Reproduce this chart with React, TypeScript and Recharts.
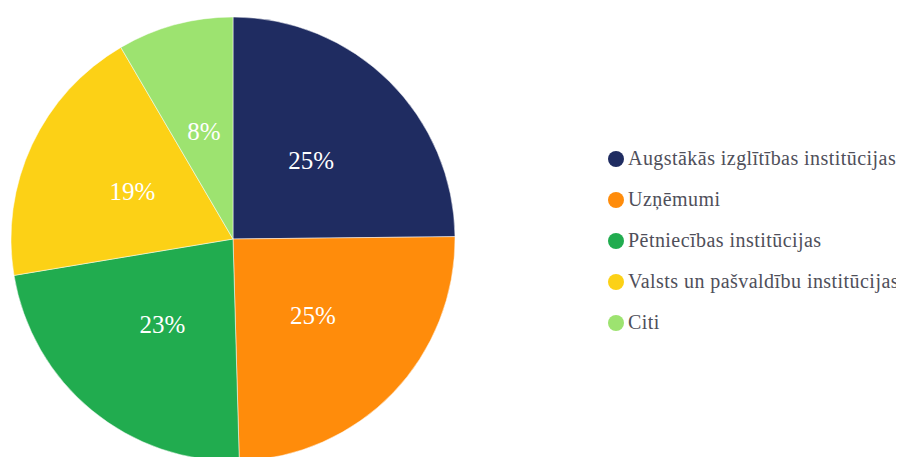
import React from 'react';
import { PieChart, Pie, Cell, Legend } from 'recharts';

// sector shares (percent)
const categories = [
  'Augstākās izglītības institūcijas',
  'Uzņēmumi',
  'Pētniecības institūcijas',
  'Valsts un pašvaldību institūcijas',
  'Citi',
];
const shares = [24.83, 24.72, 22.83, 19.19, 8.43];
const colors = ['#1f2c61', '#ff8c0b', '#21ac4f', '#fcd116', '#9de370'];

const data = categories.map((name, i) => ({ name, value: shares[i] }));

const RAD = Math.PI / 180;
const FONT = "'Liberation Serif', 'Times New Roman', serif";

const renderLabel = (props: any) => {
  const { cx, cy, midAngle, outerRadius, percent } = props;
  const r = outerRadius * 0.5;
  const x = cx + r * Math.cos(-midAngle * RAD);
  const y = cy + r * Math.sin(-midAngle * RAD);
  return (
    <text x={x} y={y} fill="#fff" textAnchor="middle" dominantBaseline="central"
      style={{ fontFamily: FONT }} fontSize={25}>
      {`${Math.round(percent * 100)}%`}
    </text>
  );
};

const LegendList = () => (
  <ul style={{ listStyle: 'none', margin: 0, padding: 0 }}>
    {data.map((d, i) => (
      <li key={d.name} style={{ height: 41, display: 'flex', alignItems: 'center' }}>
        <span style={{
          display: 'inline-block', width: 16, height: 16, borderRadius: '50%',
          background: colors[i], marginRight: 4, flex: 'none',
        }} />
        <span style={{
          fontFamily: FONT, fontSize: 20, letterSpacing: 0.45,
          color: '#4f4f5a', whiteSpace: 'nowrap',
        }}>
          {d.name}
        </span>
      </li>
    ))}
  </ul>
);

export default function App() {
  return (
    <PieChart width={896} height={470}>
      <Pie
        data={data}
        dataKey="value"
        nameKey="name"
        cx={220}
        cy={226}
        outerRadius={222}
        startAngle={90}
        endAngle={-270}
        stroke="#fff"
        strokeWidth={0.5}
        label={renderLabel}
        labelLine={false}
        isAnimationActive={false}
      >
        {data.map((d, i) => (
          <Cell key={d.name} fill={colors[i]} />
        ))}
      </Pie>
      <Legend
        content={<LegendList />}
        wrapperStyle={{ left: 600, top: 130, width: 300 }}
      />
    </PieChart>
  );
}
